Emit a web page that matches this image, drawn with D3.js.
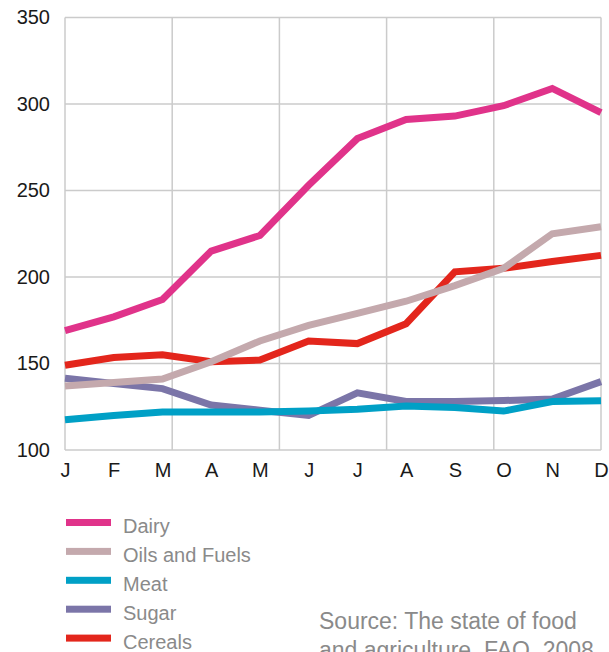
<!DOCTYPE html>
<html>
<head>
<meta charset="utf-8">
<script src="https://cdn.jsdelivr.net/npm/d3@7"></script>
<style>
  body { margin: 0; background: #fff; }
  svg { display: block; font-family: "Liberation Sans", Arial, sans-serif; }
</style>
</head>
<body>
<div id="main"></div>
<script>
// data
const months = ["J", "F", "M", "A", "M", "J", "J", "A", "S", "O", "N", "D"];
const yTicks = [100, 150, 200, 250, 300, 350];

const dairy   = [169, 177, 187, 215, 224, 253, 280, 291, 293, 299, 309, 295];
const oils    = [137, 139, 141, 151, 163, 172, 179, 186, 195, 205, 225, 229];
const meat    = [117.5, 120, 122, 122, 122, 122.5, 123.5, 125.5, 124.5, 122.5, 128, 128.5];
const sugar   = [141.5, 138.5, 135.5, 126, 123, 120, 133, 128, 128, 128.6, 129.5, 139.5];
const cereals = [149, 153.5, 155, 151, 152, 163, 161.5, 173, 203, 205, 209, 212.5];

const seriesNames = ["Dairy", "Oils and Fuels", "Meat", "Sugar", "Cereals"];
const seriesColors = ["#e0338a", "#c4a9ad", "#00a0c6", "#7b75a8", "#e3261c"];
const seriesValues = [dairy, oils, meat, sugar, cereals];

const width = 609;
const height = 652;
const margin = { top: 17.5, right: 8, bottom: 202, left: 65 };
const innerWidth = width - margin.left - margin.right;
const innerHeight = height - margin.top - margin.bottom;

const svg = d3.select("#main")
  .append("svg")
  .attr("width", width)
  .attr("height", height);

const g = svg.append("g")
  .attr("transform", `translate(${margin.left}, ${margin.top})`);

const xScale = d3.scalePoint()
  .domain(d3.range(months.length))
  .range([0, innerWidth]);

const yScale = d3.scaleLinear()
  .domain([100, 350])
  .range([innerHeight, 0]);

// vertical grid: five equal columns, not tied to months
const gridX = d3.scaleLinear().domain([0, 5]).range([0, innerWidth]);

g.append("g")
  .selectAll("line")
  .data(d3.range(6))
  .enter()
  .append("line")
  .attr("x1", d => gridX(d))
  .attr("x2", d => gridX(d))
  .attr("y1", 0)
  .attr("y2", innerHeight)
  .attr("stroke", "#cbcbcb")
  .attr("stroke-width", 1.5);

g.append("g")
  .selectAll("line")
  .data(yTicks)
  .enter()
  .append("line")
  .attr("x1", 0)
  .attr("x2", innerWidth)
  .attr("y1", d => yScale(d))
  .attr("y2", d => yScale(d))
  .attr("stroke", "#cbcbcb")
  .attr("stroke-width", 1.5);

// y labels
const yAxis = d3.axisLeft(yScale).tickValues(yTicks).tickSize(0).tickPadding(15);
g.append("g")
  .call(yAxis)
  .call(a => a.select(".domain").remove())
  .call(a => a.selectAll(".tick text")
    .attr("fill", "#1a1a1a")
    .style("font-size", "20px")
    .style("font-family", "'Liberation Sans', Arial, sans-serif"));

// x labels
const xAxis = d3.axisBottom(xScale).tickFormat(i => months[i]).tickSize(0).tickPadding(13);
g.append("g")
  .attr("transform", `translate(0, ${innerHeight})`)
  .call(xAxis)
  .call(a => a.select(".domain").remove())
  .call(a => a.selectAll(".tick text")
    .attr("fill", "#1a1a1a")
    .style("font-size", "20px")
    .style("font-family", "'Liberation Sans', Arial, sans-serif"));

// lines, cereals at the bottom, dairy on top
const line = d3.line()
  .x((d, i) => xScale(i))
  .y(d => yScale(d));

const drawOrder = [4, 3, 2, 1, 0];
g.append("g")
  .selectAll("path")
  .data(drawOrder)
  .enter()
  .append("path")
  .attr("d", k => line(seriesValues[k]))
  .attr("fill", "none")
  .attr("stroke", k => seriesColors[k])
  .attr("stroke-width", 7)
  .attr("stroke-linejoin", "miter");

// legend
const legend = svg.append("g")
  .attr("transform", "translate(66, 522.5)");

const items = legend.selectAll("g")
  .data(seriesNames)
  .enter()
  .append("g")
  .attr("transform", (d, i) => `translate(0, ${i * 28.9})`);

items.append("rect")
  .attr("x", 0)
  .attr("y", -3.5)
  .attr("width", 45)
  .attr("height", 7)
  .attr("fill", (d, i) => seriesColors[i]);

items.append("text")
  .attr("x", 57)
  .attr("y", 10.5)
  .attr("fill", "#8a8a8a")
  .style("font-size", "20px")
  .text(d => d);

// source note (second line runs off the bottom, as in the original)
svg.append("text")
  .attr("x", 319)
  .attr("y", 629)
  .attr("fill", "#8a8a8a")
  .style("font-size", "23px")
  .selectAll("tspan")
  .data(["Source: The state of food", "and agriculture, FAO, 2008"])
  .enter()
  .append("tspan")
  .attr("x", 319)
  .attr("dy", (d, i) => i === 0 ? 0 : 29)
  .text(d => d);
</script>
</body>
</html>
